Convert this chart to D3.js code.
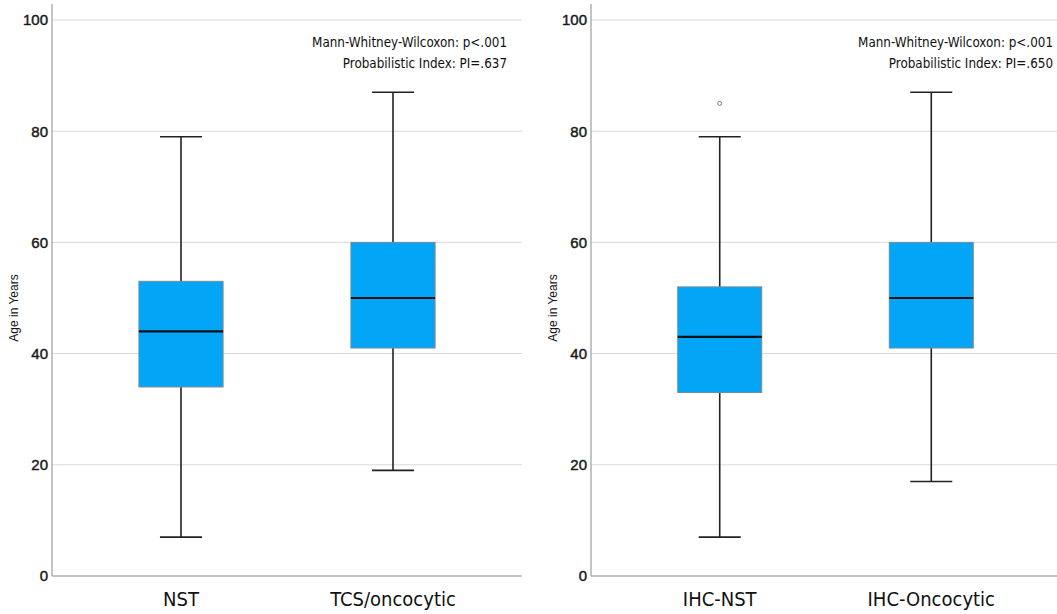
<!DOCTYPE html>
<html>
<head>
<meta charset="utf-8">
<script src="https://cdn.jsdelivr.net/npm/d3@7"></script>
<style>
  body { margin: 0; background: #fff; }
  svg { display: block; }
</style>
</head>
<body>
<svg id="chart" width="1057" height="614"></svg>
<script>
//data
var leftGroups = ['NST', 'TCS/oncocytic'];
var leftStats = [
  {lo: 7, q1: 34, med: 44, q3: 53, hi: 79, out: []},
  {lo: 19, q1: 41, med: 50, q3: 60, hi: 87, out: []}
];
var leftNotes = ['Mann-Whitney-Wilcoxon: p<.001', 'Probabilistic Index: PI=.637'];

var rightGroups = ['IHC-NST', 'IHC-Oncocytic'];
var rightStats = [
  {lo: 7, q1: 33, med: 43, q3: 52, hi: 79, out: [85]},
  {lo: 17, q1: 41, med: 50, q3: 60, hi: 87, out: []}
];
var rightNotes = ['Mann-Whitney-Wilcoxon: p<.001', 'Probabilistic Index: PI=.650'];

var yTicks = [0, 20, 40, 60, 80, 100];

var svg = d3.select('#chart');
var condensed = "'DejaVu Sans Condensed', 'DejaVu Sans', sans-serif";

/*** draw one panel ***/
function drawPanel(x0, x1, groups, stats, notes, noteX) {
  var top = 4, bottom = 576;
  var y = d3.scaleLinear().domain([0, 100]).range([576, 20]);
  var x = d3.scaleBand().domain(groups).range([x0, x1]).paddingInner(0.603).paddingOuter(0.41);

  var g = svg.append('g');

  //gridlines
  g.selectAll('.grid').data(yTicks.filter(function(d) { return d > 0; }))
    .enter().append('line')
    .attr('x1', x0).attr('x2', x1)
    .attr('y1', function(d) { return y(d); }).attr('y2', function(d) { return y(d); })
    .attr('stroke', '#d9d9d9').attr('stroke-width', 1);

  //axes
  var yAxis = d3.axisLeft(y).tickValues(yTicks).tickSize(0).tickPadding(4);
  var ay = g.append('g').attr('transform', 'translate(' + x0 + ',0)').call(yAxis);
  ay.select('.domain').remove();
  ay.selectAll('text')
    .attr('font-family', 'Liberation Sans, Arial, sans-serif')
    .attr('font-size', 15).attr('fill', '#1a1a1a')
    .attr('stroke', '#1a1a1a').attr('stroke-width', 0.45);
  g.append('line').attr('x1', x0).attr('x2', x0).attr('y1', top).attr('y2', bottom)
    .attr('stroke', '#b0b0b0').attr('stroke-width', 1.5);
  g.append('line').attr('x1', x0).attr('x2', x1).attr('y1', bottom).attr('y2', bottom)
    .attr('stroke', '#b0b0b0').attr('stroke-width', 1.5);

  var xAxis = d3.axisBottom(x).tickSize(0).tickPadding(16);
  var ax = g.append('g').attr('transform', 'translate(0,' + bottom + ')').call(xAxis);
  ax.select('.domain').remove();
  ax.selectAll('text')
    .attr('font-family', condensed)
    .attr('font-size', 20).attr('fill', '#111');

  //y label
  g.append('text')
    .attr('transform', 'translate(' + (x0 - 34) + ',308) rotate(-90)')
    .attr('text-anchor', 'middle')
    .attr('font-family', 'Liberation Sans, Arial, sans-serif')
    .attr('font-size', 12).attr('fill', '#111')
    .text('Age in Years');

  //boxes
  var bw = x.bandwidth();
  var boxes = g.selectAll('.box').data(stats).enter().append('g');
  boxes.each(function(d, i) {
    var b = d3.select(this);
    var cx = x(groups[i]) + bw / 2;
    b.append('line').attr('x1', cx).attr('x2', cx).attr('y1', y(d.hi)).attr('y2', y(d.q3))
      .attr('stroke', '#222').attr('stroke-width', 1.6);
    b.append('line').attr('x1', cx).attr('x2', cx).attr('y1', y(d.q1)).attr('y2', y(d.lo))
      .attr('stroke', '#222').attr('stroke-width', 1.6);
    b.append('line').attr('x1', cx - bw / 4).attr('x2', cx + bw / 4).attr('y1', y(d.hi)).attr('y2', y(d.hi))
      .attr('stroke', '#222').attr('stroke-width', 1.6);
    b.append('line').attr('x1', cx - bw / 4).attr('x2', cx + bw / 4).attr('y1', y(d.lo)).attr('y2', y(d.lo))
      .attr('stroke', '#222').attr('stroke-width', 1.6);
    b.append('rect').attr('x', x(groups[i])).attr('width', bw)
      .attr('y', y(d.q3)).attr('height', y(d.q1) - y(d.q3))
      .attr('fill', '#03a6f7').attr('stroke', '#7a8a95').attr('stroke-width', 1);
    b.append('line').attr('x1', x(groups[i])).attr('x2', x(groups[i]) + bw)
      .attr('y1', y(d.med)).attr('y2', y(d.med))
      .attr('stroke', '#111').attr('stroke-width', 2.2);
    b.selectAll('.out').data(d.out).enter().append('circle')
      .attr('cx', cx).attr('cy', function(v) { return y(v); }).attr('r', 2)
      .attr('fill', 'none').attr('stroke', '#777').attr('stroke-width', 1);
  });

  //notes
  g.selectAll('.note').data(notes).enter().append('text')
    .attr('x', noteX).attr('y', function(d, i) { return 47 + i * 21; })
    .attr('text-anchor', 'end')
    .attr('font-family', condensed)
    .attr('font-size', 13.3).attr('fill', '#111')
    .text(function(d) { return d; });
}

drawPanel(52, 522, leftGroups, leftStats, leftNotes, 507);
//right panel runs a little past the picture edge
drawPanel(591, 1060, rightGroups, rightStats, rightNotes, 1053);
</script>
</body>
</html>
